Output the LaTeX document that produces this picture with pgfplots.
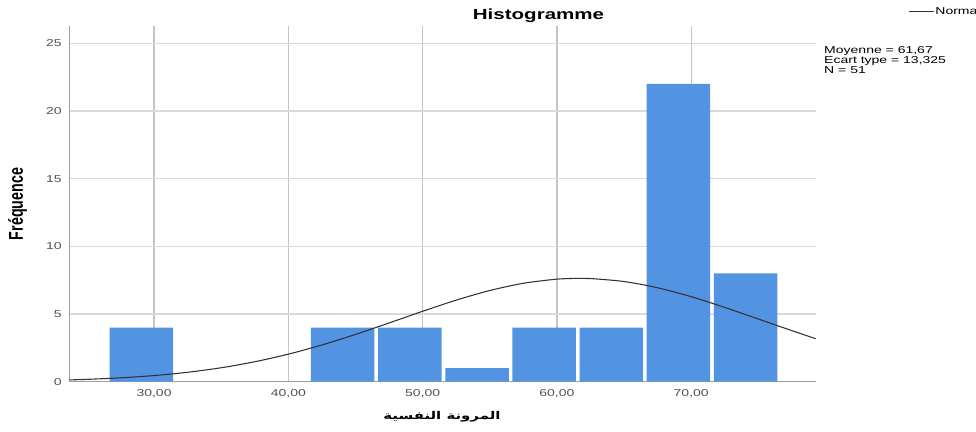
\documentclass[border=0pt]{standalone}
\usepackage{pgfplots}
\pgfplotsset{compat=1.18}
\usepackage{fontspec}
\setmainfont{Liberation Sans}
\newfontfamily\arabicfont[Script=Arabic]{DejaVu Sans}
\TeXXeTstate=1
\definecolor{barblue}{RGB}{82,147,226}
\definecolor{vgrid}{RGB}{196,196,196}
\definecolor{hgrid}{RGB}{218,218,218}
\definecolor{axisgray}{RGB}{160,160,160}
\definecolor{ticktext}{RGB}{80,80,80}
\newcommand\sx[1]{\scalebox{1.4}[1]{#1}}
\begin{document}
\begin{tikzpicture}
\path[use as bounding box] (-51.975pt,-37.725pt) rectangle (680.025pt,286.275pt);
\begin{axis}[
  at={(0pt,0pt)}, anchor=south west,
  scale only axis, width=559.8pt, height=266.8pt,
  xmin=23.69, xmax=79.27, ymin=0, ymax=26.28,
  axis x line*=bottom, axis y line*=left,
  axis line style={axisgray, line width=1.1pt},
  major tick length=0pt,
  xtick={30,40,50,60,70},
  xticklabels={\sx{30,00},\sx{40,00},\sx{50,00},\sx{60,00},\sx{70,00}},
  ytick={0,5,10,15,20,25},
  yticklabels={\sx{0},\sx{5},\sx{10},\sx{15},\sx{20},\sx{25}},
  xticklabel style={font=\fontsize{7.5pt}{9pt}\selectfont, text=ticktext, anchor=north, inner sep=0pt, yshift=-5.5pt},
  yticklabel style={font=\fontsize{7.5pt}{9pt}\selectfont, text=ticktext, anchor=east, inner sep=0pt, xshift=-5.5pt},
  xmajorgrids, ymajorgrids,
  x grid style={vgrid, line width=0.9pt},
  y grid style={hgrid, line width=0.9pt},
  legend style={draw=none, fill=none, at={(1.1233,1.0394)}, anchor=west, inner sep=0pt,
    font=\fontsize{7.5pt}{9pt}\selectfont, nodes={inner sep=1pt}},
  legend image code/.code={\draw[#1] (0pt,0pt) -- (18.75pt,0pt);},
  clip=false,
]
\addplot[ybar, bar width=4.73, fill=barblue, draw=none, forget plot] coordinates {
  (29.05,4) (44.05,4) (49.05,4) (54.05,1) (59.05,4) (64.05,4) (69.05,22) (74.05,8)
};
\addplot[smooth, draw={rgb,255:red,50;green,50;blue,50}, line width=0.8pt] coordinates {
  (23.69,0.132) (25,0.173) (27.5,0.285) (30,0.453) (32.5,0.696) (35,1.030)
  (37.5,1.474) (40,2.035) (42.5,2.713) (45,3.491) (47.5,4.337) (50,5.203)
  (52.5,6.025) (55,6.736) (57.5,7.270) (60,7.575) (61.67,7.635) (62.5,7.620)
  (65,7.401) (67.5,6.938) (70,6.280) (72.5,5.487) (75,4.629) (77.5,3.770) (79.27,3.180)
};
\addlegendentry{\sx{Normal}}
\end{axis}
\node[anchor=base, font=\bfseries\fontsize{11pt}{13pt}\selectfont] at (351.9pt,272.0pt) {\sx{Histogramme}};
\node[anchor=base west, inner sep=0pt, font=\fontsize{7.5pt}{9pt}\selectfont] at (566.0pt,245.8pt) {\sx{Moyenne = 61,67}};
\node[anchor=base west, inner sep=0pt, font=\fontsize{7.5pt}{9pt}\selectfont] at (566.0pt,238.6pt) {\sx{Ecart type = 13,325}};
\node[anchor=base west, inner sep=0pt, font=\fontsize{7.5pt}{9pt}\selectfont] at (566.0pt,231.5pt) {\sx{N = 51}};
\node[rotate=90, inner sep=0pt, font=\bfseries\fontsize{10.7pt}{12pt}\selectfont] at (-38.85pt,133.3pt) {\scalebox{1}[1.4]{Fréquence}};
\node[inner sep=0pt, font=\arabicfont\bfseries\fontsize{8pt}{10pt}\selectfont] at (279.5pt,-26.5pt) {\sx{\beginR المرونة النفسية\endR}};
\end{tikzpicture}
\end{document}
